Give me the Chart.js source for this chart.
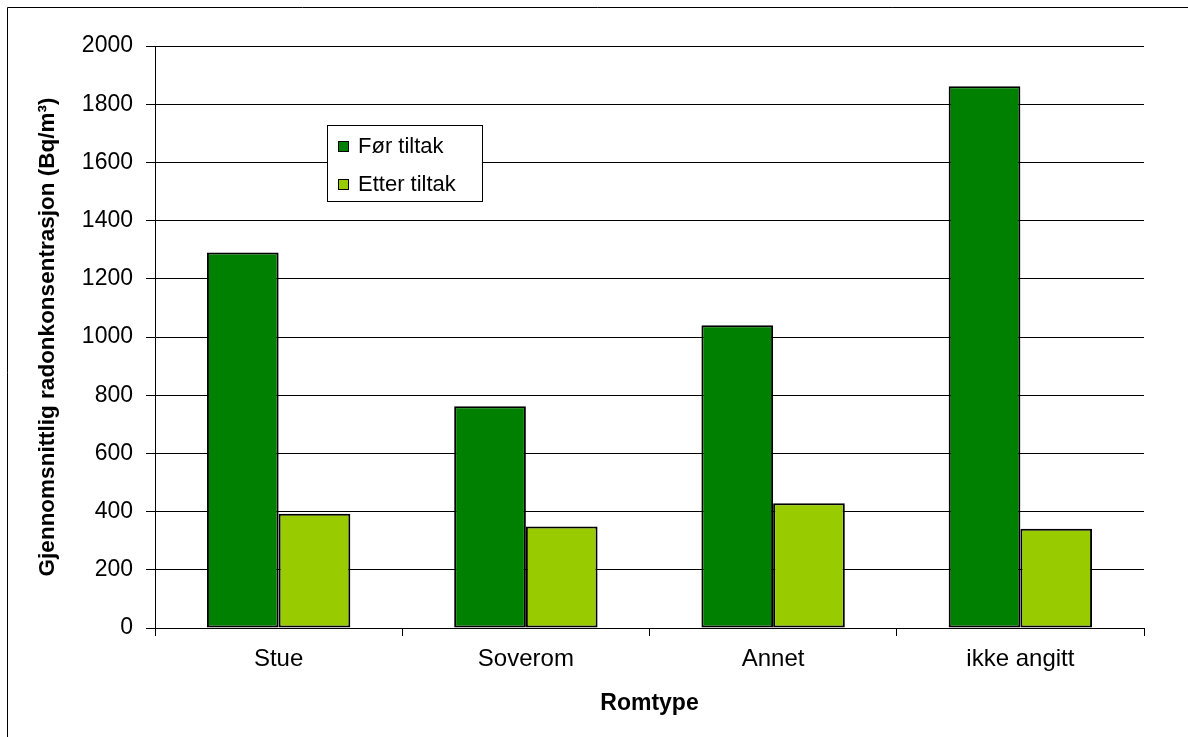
<!DOCTYPE html>
<html>
<head>
<meta charset="utf-8">
<script src="https://cdn.jsdelivr.net/npm/chart.js@4/dist/chart.umd.min.js"></script>
<style>
  html, body { margin: 0; padding: 0; background: #fff; }
  #wrap { width: 1188px; height: 737px; position: relative; }
</style>
</head>
<body>
<div id="wrap"><canvas id="c" width="1188" height="737"></canvas></div>
<script>
// Average radon concentration per room type, before and after mitigation
const categories = ['Stue', 'Soverom', 'Annet', 'ikke angitt'];
const forTiltak = [1290, 762, 1040, 1862];
const etterTiltak = [393, 349, 429, 341];
const seriesNames = ['Før tiltak', 'Etter tiltak'];
const seriesColors = ['#008000', '#99CC00'];
const yMin = 0, yMax = 2000, yStep = 200;

const FONT = '"Liberation Sans", Arial, sans-serif';

// White page with the thin frame along the top and left edge
const framePlugin = {
  id: 'frame',
  beforeDraw(chart) {
    const ctx = chart.ctx;
    ctx.save();
    ctx.fillStyle = '#fff';
    ctx.fillRect(0, 0, chart.width, chart.height);
    ctx.strokeStyle = '#000';
    ctx.lineWidth = 1;
    ctx.beginPath();
    ctx.moveTo(7.5, chart.height);
    ctx.lineTo(7.5, 7.5);
    ctx.lineTo(chart.width, 7.5);
    ctx.stroke();
    ctx.restore();
  }
};

// Boxed legend placed inside the plot area
const boxLegendPlugin = {
  id: 'boxLegend',
  afterDatasetsDraw(chart) {
    const ctx = chart.ctx;
    const bx = 327.5, by = 125.5, bw = 155, bh = 76;
    ctx.save();
    ctx.fillStyle = '#fff';
    ctx.fillRect(bx, by, bw, bh);
    ctx.strokeStyle = '#000';
    ctx.lineWidth = 1;
    ctx.strokeRect(bx, by, bw, bh);
    ctx.font = '22px ' + FONT;
    ctx.textBaseline = 'middle';
    ctx.textAlign = 'left';
    const rows = [146, 184];
    chart.data.datasets.forEach((ds, i) => {
      const cy = rows[i];
      ctx.fillStyle = ds.backgroundColor;
      ctx.fillRect(338, cy - 5, 10, 10);
      ctx.strokeStyle = '#000';
      ctx.strokeRect(338.5, cy - 4.5, 10, 10);
      ctx.fillStyle = '#000';
      ctx.fillText(ds.label, 358, cy + 1);
    });
    ctx.restore();
  }
};

new Chart(document.getElementById('c'), {
  type: 'bar',
  data: {
    labels: categories,
    datasets: [
      { label: seriesNames[0], data: forTiltak, backgroundColor: seriesColors[0] },
      { label: seriesNames[1], data: etterTiltak, backgroundColor: seriesColors[1] }
    ]
  },
  options: {
    responsive: false,
    animation: false,
    devicePixelRatio: 1,
    layout: { padding: { top: 46, right: 44, left: 0, bottom: 0 } },
    datasets: {
      bar: {
        categoryPercentage: 0.58,
        barPercentage: 1.0,
        borderColor: '#000',
        borderWidth: 2,
        borderSkipped: false
      }
    },
    plugins: {
      legend: { display: false },
      tooltip: { enabled: false }
    },
    scales: {
      x: {
        grid: { drawOnChartArea: false, drawTicks: true, tickLength: 8, color: '#000', lineWidth: 1, offset: true },
        border: { color: '#000', width: 1 },
        ticks: { font: { family: FONT, size: 24 }, color: '#000', padding: 9, maxRotation: 0 },
        title: {
          display: true, text: 'Romtype', color: '#000',
          font: { family: FONT, size: 23, weight: 'bold' },
          padding: { top: 0, bottom: 20 }
        },
        afterFit(scale) { scale.height = 109; }
      },
      y: {
        min: yMin, max: yMax,
        ticks: {
          stepSize: yStep, font: { family: FONT, size: 23 }, color: '#000', padding: 13,
          callback: (v) => String(v)
        },
        grid: { color: '#000', lineWidth: 1, tickLength: 9 },
        border: { color: '#000', width: 1 },
        title: {
          display: true, text: 'Gjennomsnittlig radonkonsentrasjon (Bq/m³)', color: '#000',
          font: { family: FONT, size: 22.5, weight: 'bold' },
          padding: { top: 34, bottom: 0 }
        },
        afterFit(scale) { scale.width = 155; }
      }
    }
  },
  plugins: [framePlugin, boxLegendPlugin]
});
</script>
</body>
</html>
